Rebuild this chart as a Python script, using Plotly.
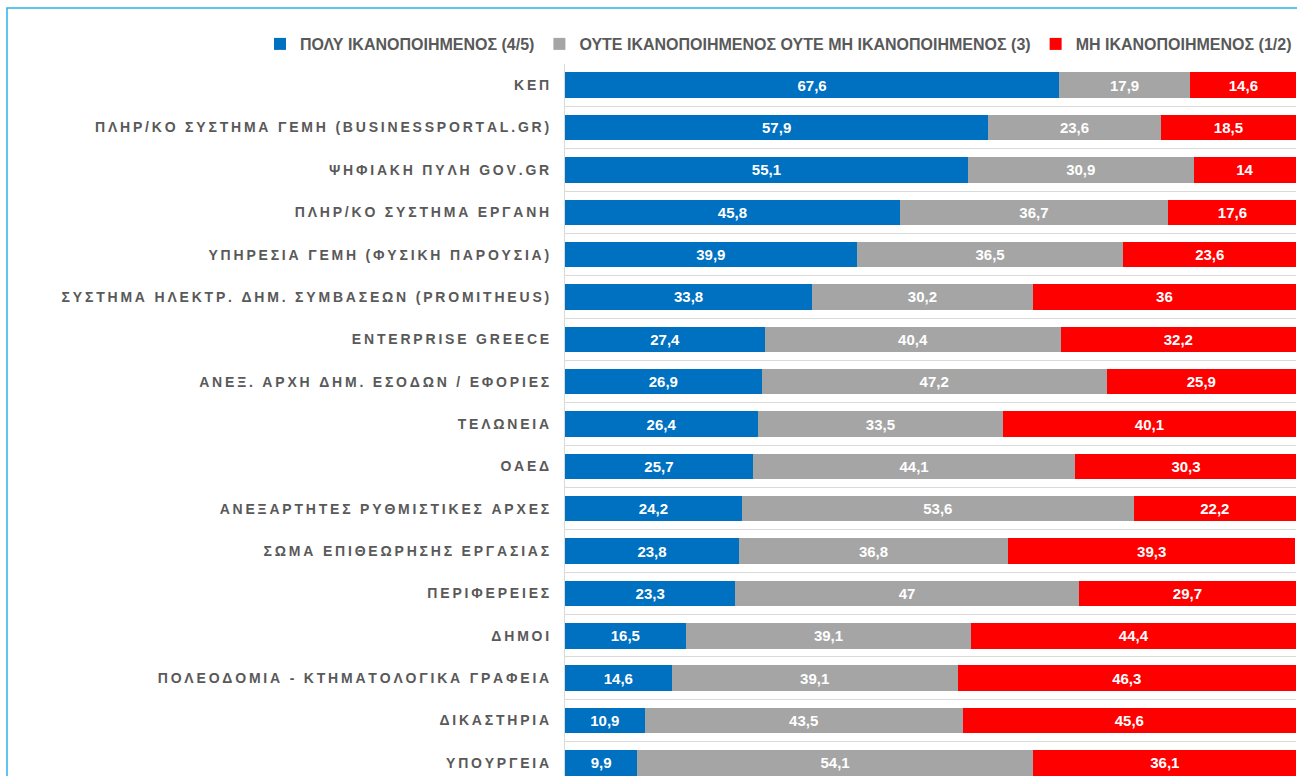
import plotly.graph_objects as go

# categories (top to bottom) and the three answer groups, in %
categories = ["ΚΕΠ",
              "ΠΛΗΡ/ΚΟ ΣΥΣΤΗΜΑ ΓΕΜΗ (BUSINESSPORTAL.GR)",
              "ΨΗΦΙΑΚΗ ΠΥΛΗ GOV.GR",
              "ΠΛΗΡ/ΚΟ ΣΥΣΤΗΜΑ ΕΡΓΑΝΗ",
              "ΥΠΗΡΕΣΙΑ ΓΕΜΗ (ΦΥΣΙΚΗ ΠΑΡΟΥΣΙΑ)",
              "ΣΥΣΤΗΜΑ ΗΛΕΚΤΡ. ΔΗΜ. ΣΥΜΒΑΣΕΩΝ (PROMITHEUS)",
              "ENTERPRISE GREECE",
              "ΑΝΕΞ. ΑΡΧΗ ΔΗΜ. ΕΣΟΔΩΝ / ΕΦΟΡΙΕΣ",
              "ΤΕΛΩΝΕΙΑ",
              "ΟΑΕΔ",
              "ΑΝΕΞΑΡΤΗΤΕΣ ΡΥΘΜΙΣΤΙΚΕΣ ΑΡΧΕΣ",
              "ΣΩΜΑ ΕΠΙΘΕΩΡΗΣΗΣ ΕΡΓΑΣΙΑΣ",
              "ΠΕΡΙΦΕΡΕΙΕΣ",
              "ΔΗΜΟΙ",
              "ΠΟΛΕΟΔΟΜΙΑ - ΚΤΗΜΑΤΟΛΟΓΙΚΑ ΓΡΑΦΕΙΑ",
              "ΔΙΚΑΣΤΗΡΙΑ",
              "ΥΠΟΥΡΓΕΙΑ"]
very_satisfied = [67.6, 57.9, 55.1, 45.8, 39.9, 33.8, 27.4, 26.9, 26.4, 25.7, 24.2, 23.8, 23.3, 16.5, 14.6, 10.9, 9.9]
neutral = [17.9, 23.6, 30.9, 36.7, 36.5, 30.2, 40.4, 47.2, 33.5, 44.1, 53.6, 36.8, 47, 39.1, 39.1, 43.5, 54.1]
not_satisfied = [14.6, 18.5, 14, 17.6, 23.6, 36, 32.2, 25.9, 40.1, 30.3, 22.2, 39.3, 29.7, 44.4, 46.3, 45.6, 36.1]
series_names = ["ΠΟΛΥ ΙΚΑΝΟΠΟΙΗΜΕΝΟΣ (4/5)",
                "ΟΥΤΕ ΙΚΑΝΟΠΟΙΗΜΕΝΟΣ ΟΥΤΕ ΜΗ ΙΚΑΝΟΠΟΙΗΜΕΝΟΣ (3)",
                "ΜΗ ΙΚΑΝΟΠΟΙΗΜΕΝΟΣ (1/2)"]
colors = ["#0070c0", "#a5a5a5", "#ff0000"]

def fmt(v):
    return f"{v:g}".replace(".", ",")

def spaced(s):
    # letter spaced labels like the original
    return "\u2009".join(s)

fig = go.Figure()
for name, vals, col in zip(series_names, [very_satisfied, neutral, not_satisfied], colors):
    fig.add_trace(go.Bar(
        y=categories, x=vals, name=name, orientation="h",
        marker=dict(color=col, line=dict(width=0)),
        text=[fmt(v) for v in vals], textposition="inside",
        insidetextanchor="middle", textangle=0,
        textfont=dict(family="Liberation Sans, Arial, sans-serif", size=15, color="white", weight="bold"),
    ))

# plot area geometry
L, R, T, B = 565, 1, 64, 0
W, H = 1297, 776
ph = H - T - B
pw = W - L - R

fig.update_layout(
    barmode="stack", bargap=0.4,
    width=W, height=H,
    margin=dict(l=L, r=R, t=T, b=B, autoexpand=False),
    paper_bgcolor="white", plot_bgcolor="white",
    showlegend=True,
    legend=dict(orientation="h", x=(260 - L) / pw, xanchor="left", y=(H - 44) / ph, yanchor="middle",
                bgcolor="rgba(0,0,0,0)",
                font=dict(family="Liberation Sans Narrow, Arial Narrow, sans-serif", size=16,
                          color="#595959", weight="bold"),
                traceorder="normal", itemwidth=30),
    uniformtext=dict(minsize=8, mode="show"),
)
fig.update_xaxes(range=[0, 100], showgrid=False, showticklabels=False, zeroline=False,
                 showline=False, fixedrange=True, automargin=False)
fig.update_yaxes(categoryorder="array", categoryarray=categories, automargin=False,
                 range=[16.31, -0.5], tickson="boundaries", showgrid=True, gridcolor="#d9d9d9",
                 gridwidth=1, showline=True, linecolor="#d9d9d9", linewidth=1, ticks="",
                 tickmode="array", tickvals=categories, ticktext=[spaced(c) for c in categories],
                 ticklabelstandoff=12,
                 tickfont=dict(family="Liberation Sans, Arial, sans-serif", size=14, color="#595959", weight="bold"))

# outer frame (light blue)
fig.add_shape(type="rect", xref="paper", yref="paper",
              x0=(7 - L) / pw, x1=1.05, y0=-0.05, y1=(H - 8) / ph,
              line=dict(color="#27b5e8", width=1.5), layer="above")

fig.write_html("out.html", config={"displayModeBar": False},
               post_script="document.body.style.margin='0px';")
